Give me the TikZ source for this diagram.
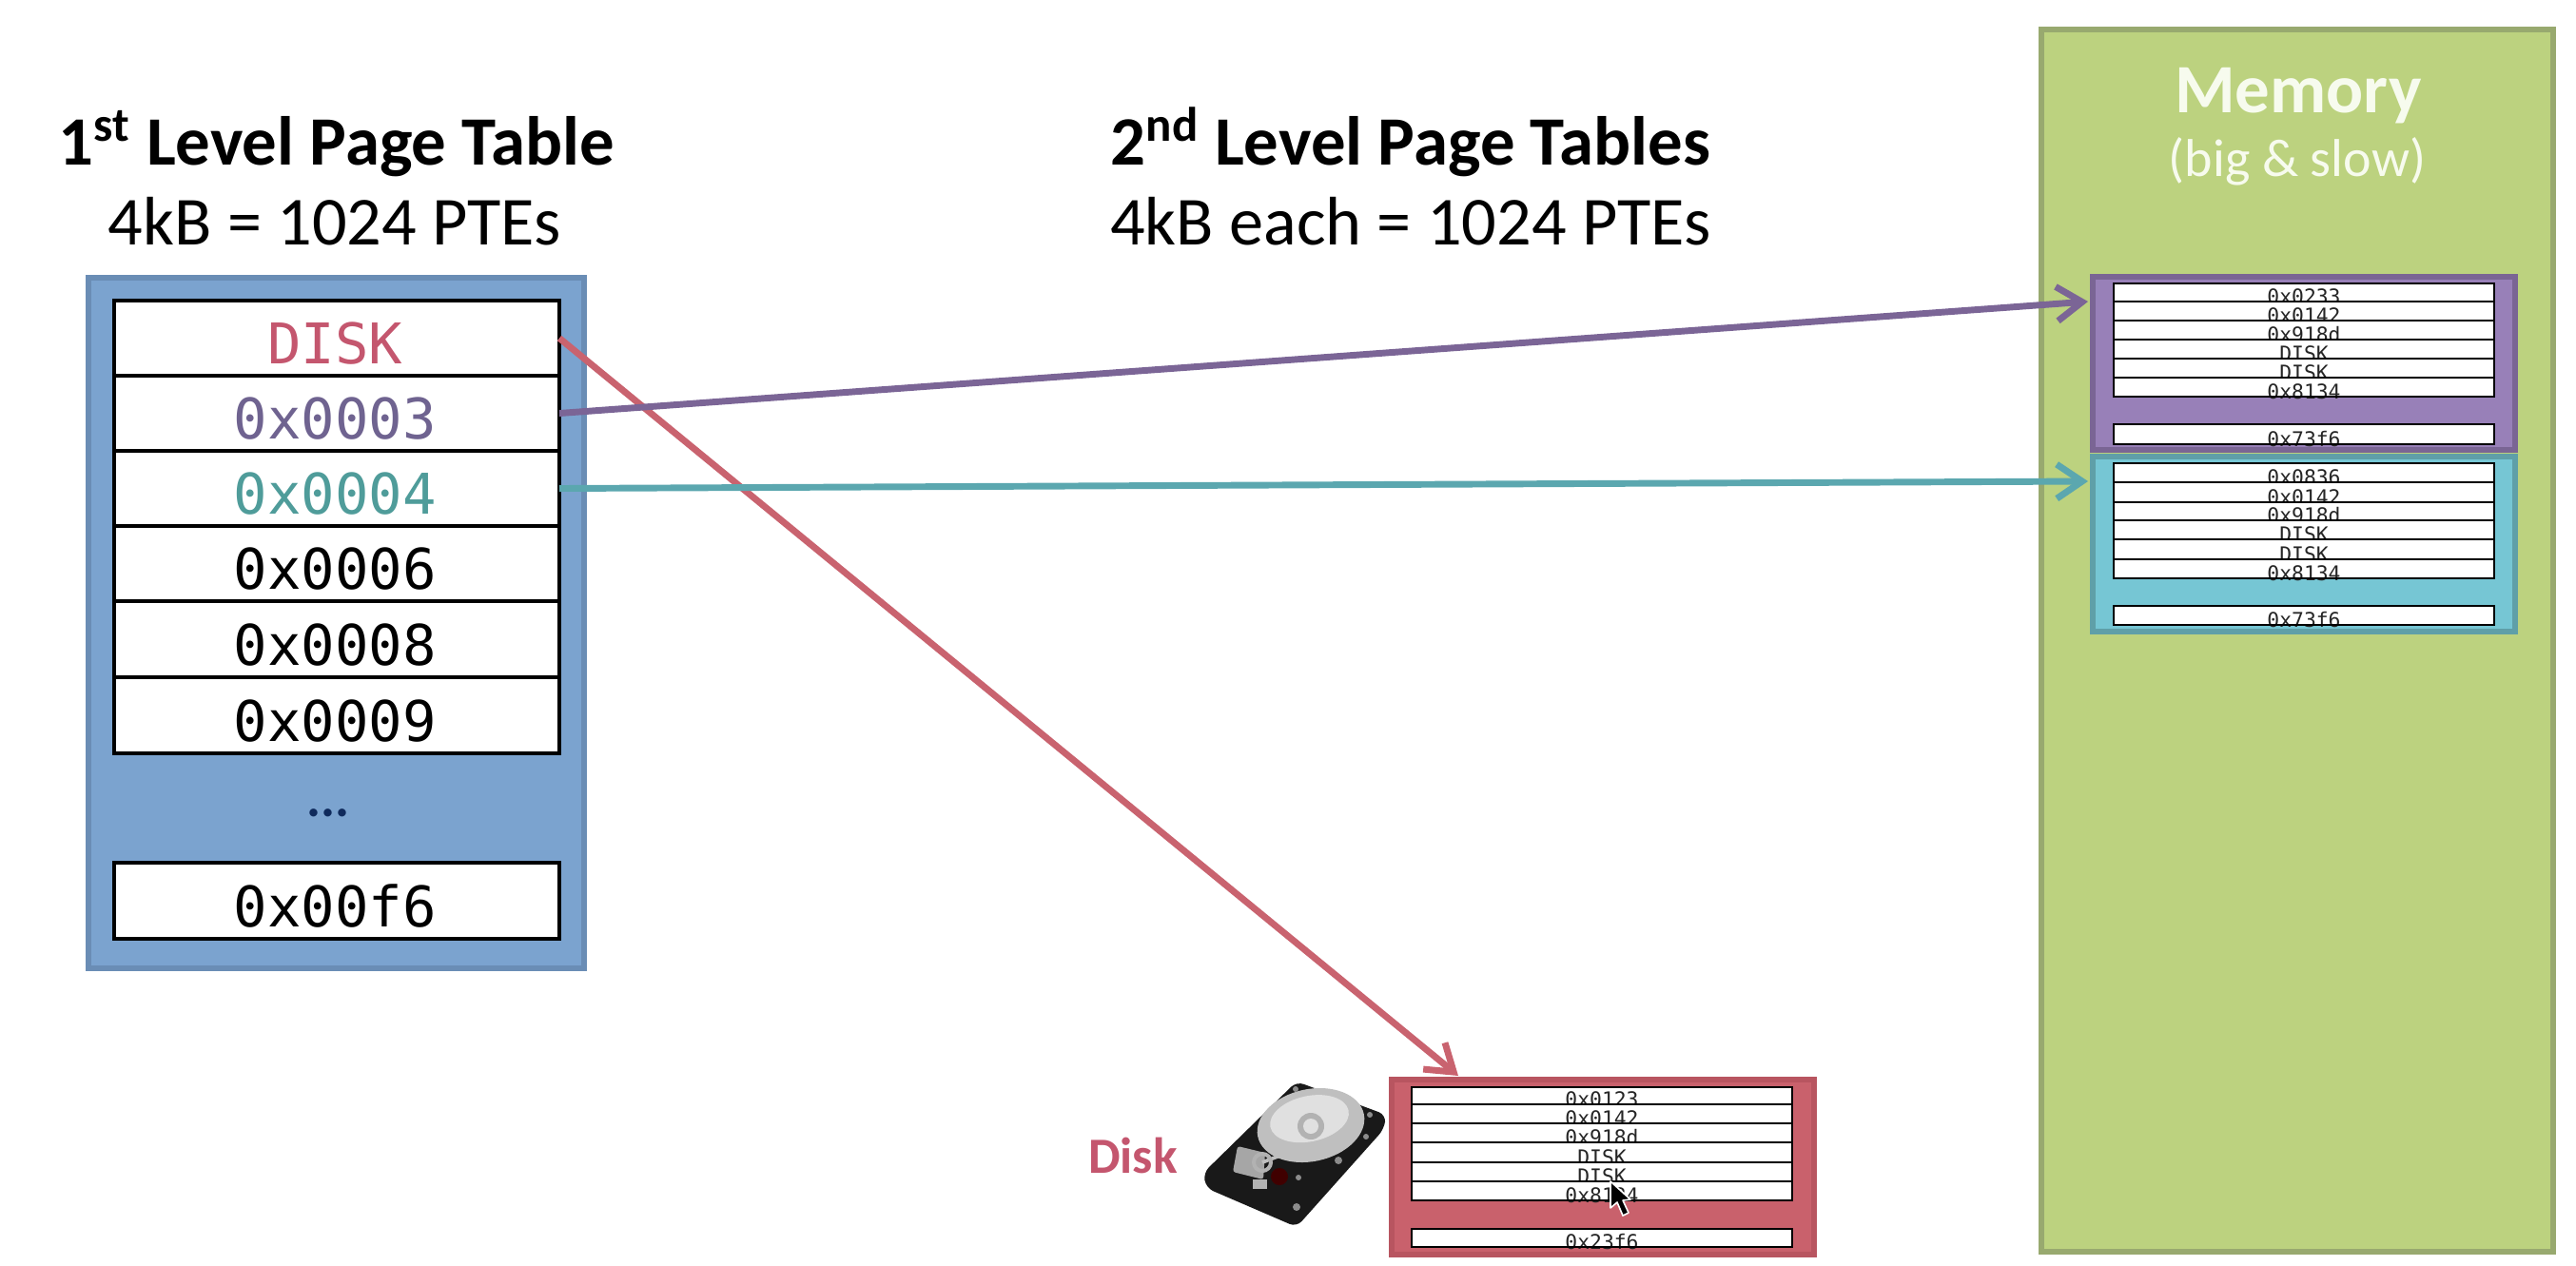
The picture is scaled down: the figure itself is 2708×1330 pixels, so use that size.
\documentclass[tikz,border=0pt]{standalone}
\usepackage{fontspec}
\setmainfont{Carlito}
\newfontfamily\monof{DejaVu Sans Mono}
\usetikzlibrary{arrows.meta}
\definecolor{bluefill}{HTML}{7BA3CF}\definecolor{blueedge}{HTML}{6A8DB5}
\definecolor{memfill}{HTML}{BCD27F}\definecolor{memedge}{HTML}{98A96F}
\definecolor{purfill}{HTML}{9880B8}\definecolor{puredge}{HTML}{7A6594}
\definecolor{teafill}{HTML}{76C6D4}\definecolor{teaedge}{HTML}{5F9FA8}
\definecolor{redfill}{HTML}{C9616C}\definecolor{rededge}{HTML}{B85560}
\definecolor{purtxt}{HTML}{6F6390}\definecolor{teatxt}{HTML}{4F9C9A}\definecolor{redtxt}{HTML}{C4566E}
\definecolor{purarr}{HTML}{7B6596}\definecolor{teaarr}{HTML}{5BA7AF}\definecolor{redarr}{HTML}{C9636F}
\definecolor{memtxt}{HTML}{F7FBEE}\definecolor{navy}{HTML}{0F2A5C}
\tikzset{
  panel/.style={line width=2.2pt,inner sep=0pt,outer sep=0pt},
  bigrow/.style={draw=black,fill=white,line width=1.3pt,inner sep=0pt,outer sep=0pt},
  smallrow/.style={fill=white,inner sep=0pt,outer sep=0pt},
  edge/.style={draw=black,line width=1.1pt},
  bigtxt/.style={font=\monof\fontsize{22.1}{24}\selectfont,anchor=base,inner sep=0pt},
  smalltxt/.style={font=\monof\fontsize{8}{9}\selectfont,anchor=base,inner sep=0pt,text=black!85},
  titleb/.style={font=\bfseries\fontsize{27.3}{30}\selectfont,anchor=base,inner sep=0pt},
  titlen/.style={font=\fontsize{27.1}{30}\selectfont,anchor=base,inner sep=0pt},
  link/.style={line width=2.6pt,-{Straight Barb[length=10pt,width=13.5pt,line width=2.6pt]}},
}
% name x1 y1 x2 y2 style
\newcommand\cell[6]{%
  \pgfmathsetmacro\cw{(#4-#2)*0.375}\pgfmathsetmacro\ch{(#5-#3)*0.375}%
  \node[minimum width=\cw pt,minimum height=\ch pt,#6] (#1) at ({(#2+#4)/2},{(#3+#5)/2}) {};}
% big table row: name y1 y2 text colour
\newcommand\bigcell[5]{%
  \cell{#1}{120}{#2}{588}{#3}{bigrow}%
  \node[bigtxt,text=#5] (#1t) at ([xshift=-0.6pt,yshift=4.6pt]#1.south) {#4};}
% small table row: name x1 y1 x2 y2 text
\newcommand\smcell[6]{%
  \cell{#1}{#2}{#3}{#4}{#5}{smallrow}%
  \node[smalltxt] (#1t) at ([yshift=-0.9pt]#1.south) {#6};
  \draw[edge] (#1.south west) rectangle (#1.north east);}
\begin{document}
\begin{tikzpicture}[x=0.375pt,y=-0.375pt]
\useasboundingbox (0,0) rectangle (2708,1330);
% first level table
\cell{l1}{93}{292}{614}{1018}{panel,draw=blueedge,fill=bluefill}
\bigcell{a1}{316}{395}{DISK}{redtxt}
\bigcell{a2}{395}{474}{0x0003}{purtxt}
\bigcell{a3}{474}{553}{0x0004}{teatxt}
\bigcell{a4}{553}{632}{0x0006}{black}
\bigcell{a5}{632}{712}{0x0008}{black}
\bigcell{a6}{712}{792}{0x0009}{black}
\node[font=\bfseries\fontsize{21}{24}\selectfont,text=navy,anchor=base,inner sep=0pt] (dots) at (345,858) {...};
\bigcell{a7}{907}{987}{0x00f6}{black}
% titles
\node[titleb] (t1) at (354,173) {1\textsuperscript{st} Level Page Table};
\node[titlen] (t1b) at (352,257) {4kB = 1024 PTEs};
\node[titleb] (t2) at (1483,173) {2\textsuperscript{nd} Level Page Tables};
\node[titlen] (t2b) at (1483,257) {4kB each = 1024 PTEs};
% memory
\cell{mem}{2146}{31}{2684}{1316}{panel,draw=memedge,fill=memfill}
\node[titleb,text=memtxt] (mt) at (2416,118) {Memory};
\node[font=\fontsize{21}{24}\selectfont,anchor=base,inner sep=0pt,text=memtxt] (mt2) at (2415,185) {(big \& slow)};
% purple table
\cell{pur}{2200}{291}{2644}{473}{panel,draw=puredge,fill=purfill}
\smcell{p1}{2222}{298}{2622}{317}{0x0233}
\smcell{p2}{2222}{317}{2622}{337}{0x0142}
\smcell{p3}{2222}{337}{2622}{357}{0x918d}
\smcell{p4}{2222}{357}{2622}{377}{DISK}
\smcell{p5}{2222}{377}{2622}{397}{DISK}
\smcell{p6}{2222}{397}{2622}{417}{0x8134}
\smcell{p7}{2222}{446}{2622}{467}{0x73f6}
% teal table
\cell{tea}{2200}{480}{2644}{664}{panel,draw=teaedge,fill=teafill}
\smcell{q1}{2222}{487}{2622}{507}{0x0836}
\smcell{q2}{2222}{507}{2622}{528}{0x0142}
\smcell{q3}{2222}{528}{2622}{547}{0x918d}
\smcell{q4}{2222}{547}{2622}{567}{DISK}
\smcell{q5}{2222}{567}{2622}{588}{DISK}
\smcell{q6}{2222}{588}{2622}{608}{0x8134}
\smcell{q7}{2222}{637}{2622}{657}{0x73f6}
% red table
\cell{dsk}{1463}{1135}{1907}{1319}{panel,draw=rededge,fill=redfill}
\smcell{r1}{1484}{1143}{1884}{1161}{0x0123}
\smcell{r2}{1484}{1161}{1884}{1181}{0x0142}
\smcell{r3}{1484}{1181}{1884}{1201}{0x918d}
\smcell{r4}{1484}{1201}{1884}{1222}{DISK}
\smcell{r5}{1484}{1222}{1884}{1242}{DISK}
\smcell{r6}{1484}{1242}{1884}{1262}{0x8134}
\smcell{r7}{1484}{1292}{1884}{1311}{0x23f6}
% disk label
\node[font=\bfseries\fontsize{20}{24}\selectfont,text=redtxt,anchor=base,inner sep=0pt] (dl) at (1191,1233) {Disk};
% hard drive
\fill[black!90,rounded corners=3pt] (1363,1137) -- (1457,1172) -- (1455,1187) -- (1363,1290) -- (1268,1249) -- (1265,1233) -- cycle;
\fill[black!35,rounded corners=1pt] (1301,1205) -- (1330,1212) -- (1328,1240) -- (1296,1232) -- cycle;
\fill[black!25,rotate around={12:(1378,1183)}] (1378,1183) ellipse [x radius=57,y radius=38];
\fill[black!12,rotate around={12:(1378,1183)}] (1378,1176) ellipse [x radius=42,y radius=24];
\fill[black!30] (1378,1184) circle (14);
\fill[black!12] (1378,1184) circle (8);
\draw[black!25,line width=1.4pt] (1327,1222) -- (1377,1203);
\draw[black!30,line width=1.5pt] (1327,1222) circle (9);
\fill[black!30] (1317,1240) rectangle (1332,1250);
\fill[black!75!red] (1345,1237) circle (9);
\fill[black!45] (1363,1269) circle (4);
\fill[black!45] (1365,1238) circle (3);
\fill[black!45] (1407,1220) circle (4);
\fill[black!45] (1440,1172) circle (3);
\fill[black!45] (1436,1195) circle (3);
\fill[black!45] (1362,1145) circle (3);
% connectors
\coordinate (endp) at (2195,317);
\coordinate (endq) at (2195,506);
\coordinate (endr) at (1533,1131);
\draw[link,draw=redarr] (a1.east) -- (endr);
\draw[link,draw=purarr] (a2.east) -- (endp);
\draw[link,draw=teaarr] (a3.east) -- (endq);
% mouse cursor
\draw[fill=black,draw=white,line width=0.6pt,line join=round] (1693,1242) -- (1693,1270) -- (1700,1264) -- (1706,1278) -- (1712,1275) -- (1706,1262) -- (1714,1261) -- cycle;
\end{tikzpicture}
\end{document}
